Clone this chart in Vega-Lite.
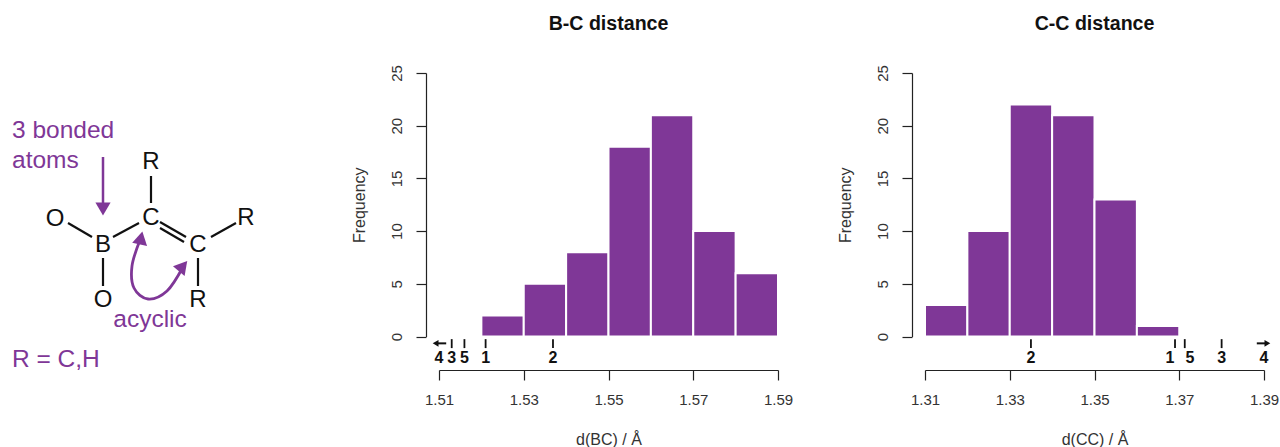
{
"$schema":"https://vega.github.io/schema/vega-lite/v6.json",
"background":"white",
"padding":{"left":0,"top":13,"right":0,"bottom":0},
"bounds":"flush",
"spacing":147,
"config":{"view":{"stroke":null},"font":"Liberation Sans",
"axis":{"grid":false,"domainColor":"#222","tickColor":"#222","labelColor":"#333","titleColor":"#333","labelFont":"Liberation Sans","titleFont":"Liberation Sans","labelFontSize":15,"titleFontSize":16,"titleFontWeight":"normal","domainWidth":1.2,"tickWidth":1.2,"labelFlush":false,"labelOverlap":false}},
"datasets":{
"bc":[{"a":1.52,"b":1.53,"n":2},{"a":1.53,"b":1.54,"n":5},{"a":1.54,"b":1.55,"n":8},{"a":1.55,"b":1.56,"n":18},{"a":1.56,"b":1.57,"n":21},{"a":1.57,"b":1.58,"n":10},{"a":1.58,"b":1.59,"n":6}],
"cc":[{"a":1.31,"b":1.32,"n":3},{"a":1.32,"b":1.33,"n":10},{"a":1.33,"b":1.34,"n":22},{"a":1.34,"b":1.35,"n":21},{"a":1.35,"b":1.36,"n":13},{"a":1.36,"b":1.37,"n":1}],
"bcTicks":[{"d":1.521},{"d":1.5369},{"d":1.513},{"d":1.516}],
"bcLabels":[{"d":1.521,"t":"1"},{"d":1.5369,"t":"2"},{"d":1.513,"t":"3"},{"d":1.51,"t":"4"},{"d":1.516,"t":"5"}],
"ccTicks":[{"d":1.335},{"d":1.369},{"d":1.3713},{"d":1.38}],
"ccLabels":[{"d":1.3678,"t":"1"},{"d":1.335,"t":"2"},{"d":1.38,"t":"3"},{"d":1.39,"t":"4"},{"d":1.3725,"t":"5"}],
"bonds":[{"x":68,"y":223,"x2":92,"y2":237},{"x":113,"y":237,"x2":139,"y2":223},{"x":151,"y":176,"x2":151,"y2":203},{"x":160,"y":222,"x2":186,"y2":237},{"x":160,"y":228,"x2":184,"y2":242},{"x":211,"y":237,"x2":236,"y2":223},{"x":198,"y":258,"x2":198,"y2":286},{"x":103,"y":258,"x2":103,"y2":286}],
"atoms":[{"x":151,"y":162,"t":"R"},{"x":55,"y":219,"t":"O"},{"x":103,"y":245,"t":"B"},{"x":151,"y":218,"t":"C"},{"x":198,"y":245,"t":"C"},{"x":246,"y":218,"t":"R"},{"x":103,"y":300,"t":"O"},{"x":198,"y":300,"t":"R"}],
"notes":[{"x":12,"y":131,"t":"3 bonded"},{"x":12,"y":161,"t":"atoms"},{"x":12,"y":360,"t":"R = C,H"}],
"curve":[{"i":1,"x":140,"y":240},{"i":2,"x":132,"y":266},{"i":3,"x":134,"y":288},{"i":4,"x":148,"y":299},{"i":5,"x":167,"y":291},{"i":6,"x":183,"y":267}]
},
"hconcat":[
{"width":292,"height":263.5,"layer":[
 {"data":{"name":"bonds"},"mark":{"type":"rule","color":"#111","strokeWidth":2.2},"encoding":{"x":{"field":"x","type":"quantitative","scale":{"domain":[0,292],"nice":false},"axis":null},"y":{"field":"y","type":"quantitative","scale":{"domain":[336.5,73],"nice":false,"zero":false},"axis":null},"x2":{"field":"x2"},"y2":{"field":"y2"}}},
 {"data":{"name":"atoms"},"mark":{"type":"text","fontSize":24,"color":"#111","baseline":"middle"},"encoding":{"x":{"field":"x","type":"quantitative"},"y":{"field":"y","type":"quantitative"},"text":{"field":"t"}}},
 {"data":{"name":"notes"},"mark":{"type":"text","fontSize":24.5,"color":"#7F3797","align":"left","baseline":"middle"},"encoding":{"x":{"field":"x","type":"quantitative"},"y":{"field":"y","type":"quantitative"},"text":{"field":"t"}}},
 {"data":{"values":[{"x":150,"y":320,"t":"acyclic"}]},"mark":{"type":"text","fontSize":24.5,"color":"#7F3797","baseline":"middle"},"encoding":{"x":{"field":"x","type":"quantitative"},"y":{"field":"y","type":"quantitative"},"text":{"field":"t"}}},
 {"data":{"values":[{"x":103,"y":157,"x2":103,"y2":208}]},"mark":{"type":"rule","color":"#7F3797","strokeWidth":2.5},"encoding":{"x":{"field":"x","type":"quantitative"},"y":{"field":"y","type":"quantitative"},"x2":{"field":"x2"},"y2":{"field":"y2"}}},
 {"data":{"name":"curve"},"mark":{"type":"line","color":"#7F3797","strokeWidth":2.8,"interpolate":"cardinal"},"encoding":{"x":{"field":"x","type":"quantitative"},"y":{"field":"y","type":"quantitative"},"order":{"field":"i","type":"quantitative"}}},
 {"data":{"values":[{"x":103,"y":209}]},"mark":{"type":"point","shape":"triangle-down","filled":true,"opacity":1,"size":230,"color":"#7F3797"},"encoding":{"x":{"field":"x","type":"quantitative"},"y":{"field":"y","type":"quantitative"}}},
 {"data":{"values":[{"x":141,"y":238}]},"mark":{"type":"point","shape":"triangle-up","filled":true,"opacity":1,"size":230,"angle":12,"color":"#7F3797"},"encoding":{"x":{"field":"x","type":"quantitative"},"y":{"field":"y","type":"quantitative"}}},
 {"data":{"values":[{"x":183,"y":266}]},"mark":{"type":"point","shape":"triangle-up","filled":true,"opacity":1,"size":230,"angle":40,"color":"#7F3797"},"encoding":{"x":{"field":"x","type":"quantitative"},"y":{"field":"y","type":"quantitative"}}}
]},
{"width":339,"height":263.5,"title":{"text":"B-C distance","anchor":"middle","offset":30.5,"fontSize":19.6,"fontWeight":"bold","font":"Liberation Sans","color":"#111"},"layer":[
 {"data":{"name":"bc"},"mark":{"type":"rect","color":"#7F3797","stroke":"white","strokeWidth":2},"encoding":{
  "x":{"field":"a","type":"quantitative","scale":{"domain":[1.51,1.59],"nice":false},"axis":{"values":[1.51,1.53,1.55,1.57,1.59],"format":".2f","title":"d(BC) / Å","offset":33.5,"tickSize":10,"labelPadding":12,"titlePadding":24}},
  "x2":{"field":"b"},
  "y":{"field":"n","type":"quantitative","scale":{"domain":[0,25],"nice":false},"axis":{"values":[0,5,10,15,20,25],"title":"Frequency","offset":13,"tickSize":10,"labelAngle":-90,"labelAlign":"center","labelBaseline":"bottom","labelPadding":12,"titlePadding":22}},
  "y2":{"datum":0}}},
 {"data":{"name":"bcTicks"},"mark":{"type":"rule","color":"#111","strokeWidth":1.8},"encoding":{"x":{"field":"d","type":"quantitative"},"y":{"datum":-0.25},"y2":{"datum":-1.1}}},
 {"data":{"name":"bcLabels"},"mark":{"type":"text","fontSize":16,"fontWeight":"bold","color":"#111","baseline":"middle"},"encoding":{"x":{"field":"d","type":"quantitative"},"y":{"datum":-2},"text":{"field":"t"}}},
 {"data":{"values":[{"d":1.5092,"e":1.5117}]},"mark":{"type":"rule","color":"#111","strokeWidth":2},"encoding":{"x":{"field":"d","type":"quantitative"},"x2":{"field":"e"},"y":{"datum":-0.65}}},
 {"data":{"values":[{"d":1.5092}]},"mark":{"type":"point","shape":"triangle-left","filled":true,"opacity":1,"size":45,"color":"#111"},"encoding":{"x":{"field":"d","type":"quantitative"},"y":{"datum":-0.65}}}
]},
{"width":339,"height":263.5,"title":{"text":"C-C distance","anchor":"middle","offset":30.5,"fontSize":19.6,"fontWeight":"bold","font":"Liberation Sans","color":"#111"},"layer":[
 {"data":{"name":"cc"},"mark":{"type":"rect","color":"#7F3797","stroke":"white","strokeWidth":2},"encoding":{
  "x":{"field":"a","type":"quantitative","scale":{"domain":[1.31,1.39],"nice":false},"axis":{"values":[1.31,1.33,1.35,1.37,1.39],"format":".2f","title":"d(CC) / Å","offset":33.5,"tickSize":10,"labelPadding":12,"titlePadding":24}},
  "x2":{"field":"b"},
  "y":{"field":"n","type":"quantitative","scale":{"domain":[0,25],"nice":false},"axis":{"values":[0,5,10,15,20,25],"title":"Frequency","offset":13,"tickSize":10,"labelAngle":-90,"labelAlign":"center","labelBaseline":"bottom","labelPadding":12,"titlePadding":22}},
  "y2":{"datum":0}}},
 {"data":{"name":"ccTicks"},"mark":{"type":"rule","color":"#111","strokeWidth":1.8},"encoding":{"x":{"field":"d","type":"quantitative"},"y":{"datum":-0.25},"y2":{"datum":-1.1}}},
 {"data":{"name":"ccLabels"},"mark":{"type":"text","fontSize":16,"fontWeight":"bold","color":"#111","baseline":"middle"},"encoding":{"x":{"field":"d","type":"quantitative"},"y":{"datum":-2},"text":{"field":"t"}}},
 {"data":{"values":[{"d":1.3883,"e":1.3908}]},"mark":{"type":"rule","color":"#111","strokeWidth":2},"encoding":{"x":{"field":"d","type":"quantitative"},"x2":{"field":"e"},"y":{"datum":-0.65}}},
 {"data":{"values":[{"d":1.3908}]},"mark":{"type":"point","shape":"triangle-right","filled":true,"opacity":1,"size":45,"color":"#111"},"encoding":{"x":{"field":"d","type":"quantitative"},"y":{"datum":-0.65}}}
]}
]}
